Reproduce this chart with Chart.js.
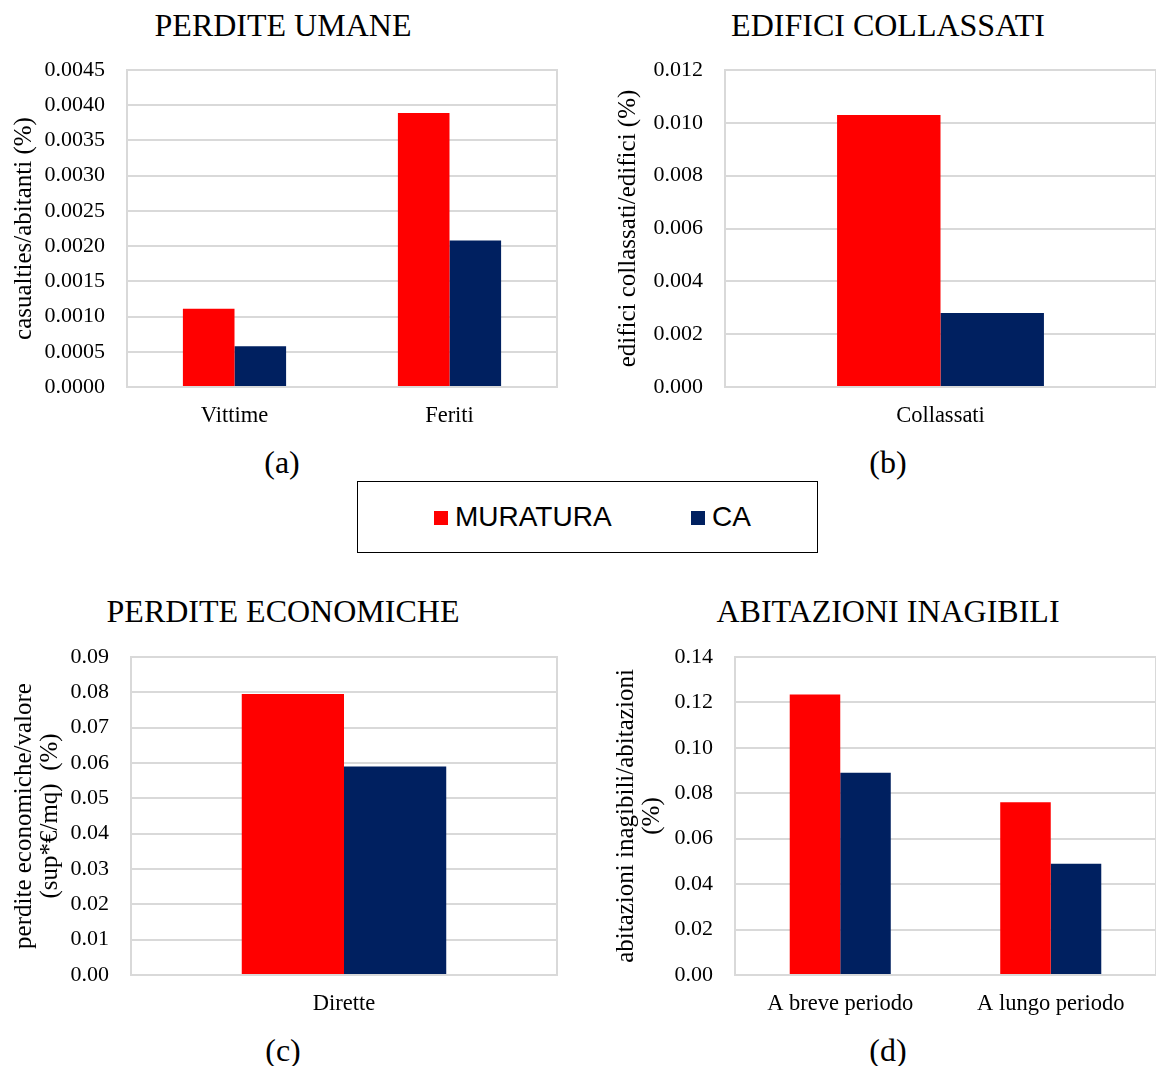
<!DOCTYPE html>
<html>
<head>
<meta charset="utf-8">
<script src="https://cdn.jsdelivr.net/npm/chart.js@4.4.0/dist/chart.umd.min.js"></script>
<style>
    body { margin: 0; background: #fff; }
    .page { position: relative; width: 1156px; height: 1066px; overflow: hidden; font-family: "Liberation Serif", "Times New Roman", serif; color: #000; }
    .panel { position: absolute; }
    .heading { position: absolute; font-size: 32px; line-height: 36px; white-space: nowrap; transform: translateX(-50%); }
    .caption { position: absolute; font-size: 32px; line-height: 36px; transform: translateX(-50%); }
    #legend { position: absolute; left: 357px; top: 481px; width: 459px; height: 70px; border: 1.5px solid #000;
              font-family: "Liberation Sans", Arial, sans-serif; font-size: 28px; }
    .item { position: absolute; top: 20px; line-height: 30px; white-space: nowrap; }
    .swatch { display: inline-block; width: 14px; height: 14px; margin-right: 7px; vertical-align: 1px; }
</style>
</head>
<body>
<div class="page">
    <div class="heading" style="left:283px; top:7px;">PERDITE UMANE</div>
    <div class="heading" style="left:888px; top:7px;">EDIFICI COLLASSATI</div>
    <div class="heading" style="left:283px; top:593px;">PERDITE ECONOMICHE</div>
    <div class="heading" style="left:888px; top:593px;">ABITAZIONI INAGIBILI</div>

    <div class="panel" style="left:0; top:0;"><canvas id="umane" width="568" height="432"></canvas></div>
    <div class="panel" style="left:600px; top:0;"><canvas id="edifici" width="556" height="432"></canvas></div>
    <div class="panel" style="left:0; top:586px;"><canvas id="economiche" width="568" height="434"></canvas></div>
    <div class="panel" style="left:600px; top:586px;"><canvas id="inagibili" width="556" height="434"></canvas></div>

    <div class="caption" style="left:282px; top:444px;">(a)</div>
    <div class="caption" style="left:888px; top:444px;">(b)</div>
    <div class="caption" style="left:283px; top:1032px;">(c)</div>
    <div class="caption" style="left:888px; top:1032px;">(d)</div>

    <div id="legend"></div>
</div>

<script>
// series
const seriesNames = ['MURATURA', 'CA'];
const seriesColors = ['#ff0000', '#002060'];

// (a) perdite umane
const umaneLabels = ['Vittime', 'Feriti'];
const umaneMuratura = [0.00111, 0.00389];
const umaneCA = [0.00058, 0.00208];
const umaneTicks = ['0.0000', '0.0005', '0.0010', '0.0015', '0.0020', '0.0025', '0.0030', '0.0035', '0.0040', '0.0045'];

// (b) edifici collassati
const edificiLabels = ['Collassati'];
const edificiMuratura = [0.0103];
const edificiCA = [0.0028];
const edificiTicks = ['0.000', '0.002', '0.004', '0.006', '0.008', '0.010', '0.012'];

// (c) perdite economiche
const economicheLabels = ['Dirette'];
const economicheMuratura = [0.0795];
const economicheCA = [0.0590];
const economicheTicks = ['0.00', '0.01', '0.02', '0.03', '0.04', '0.05', '0.06', '0.07', '0.08', '0.09'];

// (d) abitazioni inagibili
const inagibiliLabels = ['A breve periodo', 'A lungo periodo'];
const inagibiliMuratura = [0.1235, 0.0760];
const inagibiliCA = [0.0890, 0.0490];
const inagibiliTicks = ['0.00', '0.02', '0.04', '0.06', '0.08', '0.10', '0.12', '0.14'];

const gridColor = '#d9d9d9';
const serif = '"Liberation Serif", "Times New Roman", serif';

// grey box round the plot area, drawn under the bars
const plotFrame = {
    id: 'plotFrame',
    beforeDatasetsDraw(chart) {
        const a = chart.chartArea;
        const ctx = chart.ctx;
        ctx.save();
        ctx.strokeStyle = gridColor;
        ctx.lineWidth = 2;
        ctx.strokeRect(a.left, a.top, a.right - a.left, a.bottom - a.top);
        ctx.restore();
    }
};

function makeChart(id, labels, muratura, ca, ticks, yTitle, opts) {
    const decimals = ticks[0].split('.')[1].length;
    const step = parseFloat(ticks[1]);
    const ctx = document.getElementById(id).getContext('2d');
    return new Chart(ctx, {
        type: 'bar',
        data: {
            labels: labels,
            datasets: [
                { label: seriesNames[0], data: muratura, backgroundColor: seriesColors[0], borderWidth: 0 },
                { label: seriesNames[1], data: ca, backgroundColor: seriesColors[1], borderWidth: 0 }
            ]
        },
        options: {
            responsive: false,
            devicePixelRatio: 1,
            animation: false,
            layout: { padding: { top: opts.top, right: opts.right, left: 0, bottom: 0 } },
            datasets: { bar: { categoryPercentage: 0.48, barPercentage: 1.0 } },
            plugins: {
                legend: { display: false },
                tooltip: { enabled: false }
            },
            scales: {
                x: {
                    grid: { display: false, drawTicks: false },
                    border: { display: false },
                    ticks: { color: '#000', font: { family: serif, size: 22.5 }, padding: 16 },
                    afterFit: function(axis) { axis.height = 45; }
                },
                y: {
                    min: 0,
                    max: parseFloat(ticks[ticks.length - 1]),
                    ticks: {
                        stepSize: step,
                        color: '#000',
                        font: { family: serif, size: 22 },
                        padding: 22,
                        callback: function(v, i) { return ticks[i] !== undefined ? ticks[i] : v.toFixed(decimals); }
                    },
                    grid: { color: gridColor, lineWidth: 2, drawTicks: false },
                    border: { display: true, color: gridColor, width: 2 },
                    title: {
                        display: true,
                        text: yTitle,
                        color: '#000',
                        font: { family: serif, size: 25, lineHeight: 1.06 },
                        padding: { top: opts.titlePad, bottom: 0 }
                    },
                    afterFit: function(axis) { axis.width = opts.axisWidth; }
                }
            }
        },
        plugins: [plotFrame]
    });
}

makeChart('umane', umaneLabels, umaneMuratura, umaneCA, umaneTicks,
    'casualties/abitanti (%)', { top: 70, right: 11, axisWidth: 127, titlePad: 11 });
makeChart('edifici', edificiLabels, edificiMuratura, edificiCA, edificiTicks,
    'edifici collassati/edifici (%)', { top: 70, right: 0, axisWidth: 125, titlePad: 15 });
makeChart('economiche', economicheLabels, economicheMuratura, economicheCA, economicheTicks,
    ['perdite economiche/valore', '(sup*€/mq)  (%)'], { top: 71, right: 11, axisWidth: 131, titlePad: 11 });
makeChart('inagibili', inagibiliLabels, inagibiliMuratura, inagibiliCA, inagibiliTicks,
    ['abitazioni inagibili/abitazioni', '(%)'], { top: 71, right: 0, axisWidth: 135, titlePad: 13 });

// shared legend box
const legendBox = document.getElementById('legend');
const itemLeft = [76, 333];
seriesNames.forEach(function(name, i) {
    const item = document.createElement('div');
    item.className = 'item';
    item.style.left = itemLeft[i] + 'px';
    item.innerHTML = '<span class="swatch" style="background:' + seriesColors[i] + '"></span>' + name;
    legendBox.appendChild(item);
});
</script>
</body>
</html>
